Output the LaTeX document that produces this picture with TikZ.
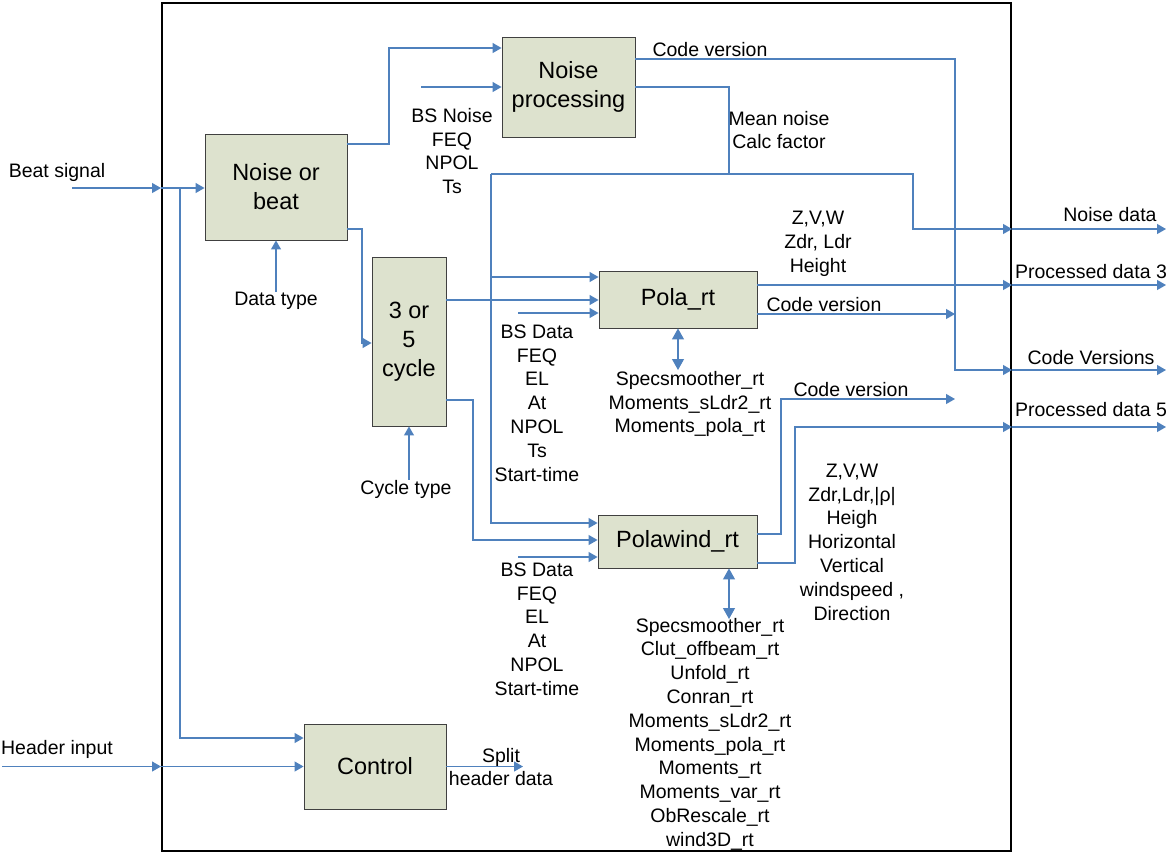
\documentclass[tikz,border=0pt]{standalone}
\usepackage{fontspec}
\setmainfont{Liberation Sans}
\usetikzlibrary{arrows.meta}
\definecolor{flow}{RGB}{79,129,189}
\definecolor{boxfill}{RGB}{221,226,206}
\definecolor{boxline}{RGB}{64,64,64}
\begin{document}
\begin{tikzpicture}[x=1pt,y=-1pt,
  lbl/.style={font=\fontsize{19.5}{23.8}\selectfont, align=center, inner sep=0pt},
  block/.style={draw=boxline, fill=boxfill, line width=0.9pt,
    font=\fontsize{23.5}{29}\selectfont, align=center, inner sep=0pt},
  flowline/.style={draw=flow, line width=1.2pt},
  arr/.style={flowline, -{Triangle[length=9pt,width=10pt]}},
  darr/.style={flowline, {Triangle[length=11pt,width=12pt]}-{Triangle[length=11pt,width=12pt]}},
]
\useasboundingbox (0,0) rectangle (1170,855);

% outer system boundary
\node[draw, line width=2pt, minimum width=849pt, minimum height=848pt, inner sep=0pt] (frame) at (586.5,427) {};

% processing blocks
\node[block, minimum width=142pt, minimum height=106pt] (nob)  at (276,187)   {Noise or\\beat};
\node[block, minimum width=133pt, minimum height=100pt] (np)   at (568.5,87)  {Noise\\processing};
\node[block, minimum width=74pt,  minimum height=169pt] (cyc)  at (409,341.5) {3 or\\5\\cycle};
\node[block, minimum width=158pt, minimum height=57pt]  (pola) at (678,299.5) {Pola\_rt};
\node[block, minimum width=159pt, minimum height=53pt]  (pw)   at (677.5,541.5) {Polawind\_rt};
\node[block, minimum width=142pt, minimum height=85pt]  (ctrl) at (375,766.5) {Control};

% free ends
\coordinate (beatin) at (72,188);
\coordinate (hdrin)  at (2,766.5);
\coordinate (split)  at (180,188);
\coordinate (npin)   at (421,87);
\coordinate (polain) at (518,313);
\coordinate (pwin)   at (518,557);
\coordinate (busA)   at (491,174);
\coordinate (ctrlout) at (523,766.5);
\coordinate (outN)   at (1166,229);
\coordinate (out3)   at (1166,285);
\coordinate (outC)   at (1166,370);
\coordinate (out5)   at (1166,427);

% labels
\node[lbl] (lbeat) at (57,172) {Beat signal};
\node[lbl] (lhdr)  at (57,749) {Header input};
\node[lbl] (ldt)   at (276,301) {Data type};
\node[lbl] (lct)   at (406,489) {Cycle type};
\node[lbl] (lbsn)  at (452,151) {BS Noise\\FEQ\\NPOL\\Ts};
\node[lbl] (lcv1)  at (710,50) {Code version};
\node[lbl] (lmn)   at (779,130) {Mean noise\\Calc factor};
\node[lbl] (lzvw1) at (818,244) {Z,V,W\\Zdr, Ldr\\Height};
\node[lbl] (lnd)   at (1110,215) {Noise data};
\node[lbl] (lpd3)  at (1091,272) {Processed data 3};
\node[lbl] (lcv2)  at (824,305) {Code version};
\node[lbl] (lcvs)  at (1091,358) {Code Versions};
\node[lbl] (lcv3)  at (851,390) {Code version};
\node[lbl] (lpd5)  at (1091,410) {Processed data 5};
\node[lbl] (lbsd1) at (537,403) {BS Data\\FEQ\\EL\\At\\NPOL\\Ts\\Start-time};
\node[lbl] (lmod1) at (690,404) {Specsmoother\_rt\\Moments\_sLdr2\_rt\\Moments\_pola\_rt};
\node[lbl] (lzvw2) at (852,542) {Z,V,W\\Zdr,Ldr,|ρ|\\Heigh\\Horizontal\\Vertical\\windspeed ,\\Direction};
\node[lbl] (lbsd2) at (537,629) {BS Data\\FEQ\\EL\\At\\NPOL\\Start-time};
\node[lbl] (lmod2) at (710,734) {Specsmoother\_rt\\Clut\_offbeam\_rt\\Unfold\_rt\\Conran\_rt\\Moments\_sLdr2\_rt\\Moments\_pola\_rt\\Moments\_rt\\Moments\_var\_rt\\ObRescale\_rt\\wind3D\_rt};
\node[lbl] (lsplit) at (501,767) {Split\\header data};

% inputs from outside
\draw[arr] (beatin) -- (frame.west |- 0,188);
\draw[arr] (frame.west |- 0,188) -- (nob.west |- 0,188);
\draw[arr] (split) |- (ctrl.west |- 0,738);
\draw[arr] (hdrin) -- (frame.west |- 0,766.5);
\draw[arr] (frame.west |- 0,766.5) -- (ctrl.west);
\draw[arr] (ctrl.east) -- (ctrlout);

% selectors
\draw[arr] (ldt.north) -- (nob.south);
\draw[arr] (lct.north -| cyc.south) -- (cyc.south);

% noise / beat routing
\draw[arr] (nob.east |- 0,144) -| (389,48) -- (np.west |- 0,48);
\draw[arr] (npin) -- (np.west);
\draw[arr] (nob.east |- 0,229) -| (362,343) -- (cyc.west |- 0,343);

% cycle routing
\draw[arr] (cyc.east |- 0,300) -- (pola.west |- 0,300);
\draw[arr] (cyc.east |- 0,400) -| (473,540) -- (pw.west |- 0,540);

% noise results bus
\draw[flowline] (np.east |- 0,87) -| (729,174);
\draw[arr] (busA) -| (913,229) -- (frame.east |- 0,229);
\draw[arr] (frame.east |- 0,229) -- (outN);
\draw[arr] (busA) |- (pw.west |- 0,523);
\draw[arr] (491,277) -- (pola.west |- 0,277);
\draw[arr] (polain) -- (pola.west |- 0,313);
\draw[arr] (pwin) -- (pw.west |- 0,557);

% code version collection
\draw[arr] (np.east |- 0,59) -| (955,370) -- (frame.east |- 0,370);
\draw[arr] (frame.east |- 0,370) -- (outC);
\draw[arr] (pola.east |- 0,314) -- (955,314);
\draw[arr] (pw.east |- 0,534) -| (781,399) -- (955,399);

% processed data outputs
\draw[arr] (pola.east |- 0,285) -- (frame.east |- 0,285);
\draw[arr] (frame.east |- 0,285) -- (out3);
\draw[arr] (pw.east |- 0,563) -| (795,427) -- (frame.east |- 0,427);
\draw[arr] (frame.east |- 0,427) -- (out5);

% module calls
\draw[darr] (pola.south) -- (678,370);
\draw[darr] (pw.south -| 729,0) -- (729,619);
\end{tikzpicture}
\end{document}
